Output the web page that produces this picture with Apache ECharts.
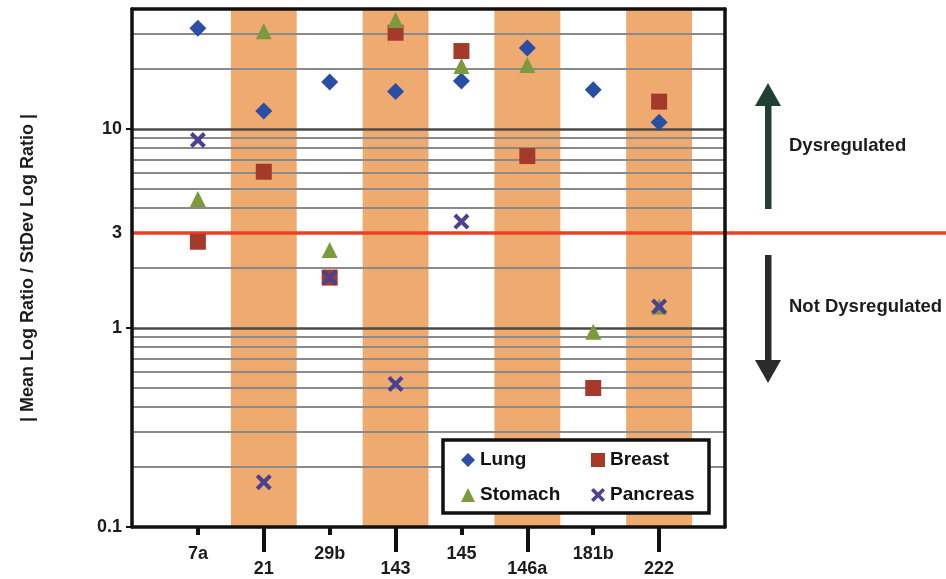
<!DOCTYPE html>
<html>
<head>
<meta charset="utf-8">
<script src="https://cdn.jsdelivr.net/npm/echarts@6/dist/echarts.min.js"></script>
<style>
  html, body { margin: 0; padding: 0; background: #fff; }
  #chart { width: 946px; height: 579px; }
</style>
</head>
<body>
<div id="chart"></div>
<script>
// miRNA categories and per-tissue |mean log ratio / stdev log ratio|
const categories = ['7a', '21', '29b', '143', '145', '146a', '181b', '222'];
const lung     = [32.0, 12.3, 17.2, 15.4, 17.4, 25.5, 15.7, 10.8];
const breast   = [2.71, 6.09, 1.79, 30.4, 24.6, 7.30, 0.499, 13.7];
const stomach  = [4.44, 30.9, 2.46, 35.2, 20.7, 20.9, 0.957, 1.28];
const pancreas = [8.79, 0.168, 1.79, 0.523, 3.42, null, null, 1.28];

// shaded columns, axis labels and reference lines
const shadedCategories = ['21', '143', '146a', '222'];
const yTickLabels = [0.1, 1, 3, 10];
const yTickMarks = [0.1, 1, 10];
const minorGrid = [0.2, 0.3, 0.4, 0.5, 0.6, 0.7, 0.8, 0.9, 2, 4, 5, 6, 7, 8, 9, 20, 30];
const majorGrid = [1, 10];
const threshold = 3;
const yMin = 0.1, yMax = 40;

const FONT = 'Arial, "Liberation Sans", Helvetica, sans-serif';
const INK = '#1c1c1c';
const BAND = '#EFAA6F';
const RED = '#EE3F24';
const X_SHAPE = 'path://M0,1.8 L1.8,0 L5,3.2 L8.2,0 L10,1.8 L6.8,5 L10,8.2 L8.2,10 L5,6.8 L1.8,10 L0,8.2 L3.2,5 Z';

const positions = categories.map((c, i) => i + 1);
const upperRow = positions.filter(p => p % 2 === 1);
const lowerRow = positions.filter(p => p % 2 === 0);
const toPoints = arr => arr.map((v, i) => (v == null ? null : [i + 1, v])).filter(Boolean);
const catName = v => categories[Math.round(v) - 1] || '';
const labelFont = { fontFamily: FONT, fontWeight: 'bold', fontSize: 18, color: INK };

const chart = echarts.init(document.getElementById('chart'), null, { renderer: 'canvas' });

const frameLine = { show: true, onZero: false, lineStyle: { color: '#111', width: 3.5 } };

chart.setOption({
  animation: false,
  backgroundColor: '#fff',
  grid: { left: 132, right: 221, top: 9, bottom: 52, containLabel: false },
  xAxis: [
    {
      type: 'value', min: 0, max: positions.length + 1, interval: 1, position: 'bottom', z: 6,
      axisLine: frameLine,
      axisTick: { show: true, customValues: upperRow, length: 8, lineStyle: { color: '#111', width: 4 } },
      axisLabel: Object.assign({ customValues: upperRow, formatter: catName, margin: 18 }, labelFont),
      splitLine: { show: false }
    },
    {
      type: 'value', min: 0, max: positions.length + 1, interval: 1, position: 'bottom', z: 6,
      axisLine: { show: false, onZero: false },
      axisTick: { show: true, customValues: lowerRow, length: 25, lineStyle: { color: '#111', width: 4 } },
      axisLabel: Object.assign({ customValues: lowerRow, formatter: catName, margin: 33 }, labelFont),
      splitLine: { show: false }
    },
    {
      type: 'value', min: 0, max: positions.length + 1, position: 'top', z: 6,
      axisLine: frameLine, axisTick: { show: false }, axisLabel: { show: false }, splitLine: { show: false }
    }
  ],
  yAxis: [
    {
      type: 'log', logBase: 10, min: yMin, max: yMax, position: 'left', z: 6,
      axisLine: frameLine,
      axisTick: { show: true, customValues: yTickMarks, length: 6, lineStyle: { color: '#111', width: 2 } },
      axisLabel: Object.assign({
        customValues: yTickLabels, margin: 10,
        formatter: v => String(Number(Number(v).toPrecision(3)))
      }, labelFont),
      splitLine: { show: false },
      name: '| Mean Log Ratio / StDev Log Ratio |',
      nameLocation: 'middle', nameRotate: 90, nameGap: 95,
      nameTextStyle: { fontFamily: FONT, fontWeight: 'bold', fontSize: 18, color: INK }
    },
    {
      type: 'log', logBase: 10, min: yMin, max: yMax, position: 'right', z: 6,
      axisLine: frameLine, axisTick: { show: false }, axisLabel: { show: false }, splitLine: { show: false }
    }
  ],
  legend: [
    {
      data: ['Lung', 'Stomach'], orient: 'vertical', left: 461, top: 450, padding: 0,
      itemGap: 15, itemWidth: 14, itemHeight: 14, selectedMode: false, z: 30,
      textStyle: { fontFamily: FONT, fontWeight: 'bold', fontSize: 19, lineHeight: 20, color: '#111' }
    },
    {
      data: ['Breast', 'Pancreas'], orient: 'vertical', left: 591, top: 450, padding: 0,
      itemGap: 15, itemWidth: 14, itemHeight: 14, selectedMode: false, z: 30,
      textStyle: { fontFamily: FONT, fontWeight: 'bold', fontSize: 19, lineHeight: 20, color: '#111' }
    }
  ],
  series: [
    {
      name: 'bands', type: 'scatter', data: [], silent: true, z: 1,
      markArea: {
        silent: true,
        itemStyle: { color: BAND, opacity: 1 },
        data: shadedCategories.map(c => {
          const p = categories.indexOf(c) + 1;
          return [{ xAxis: p - 0.5 }, { xAxis: p + 0.5 }];
        })
      }
    },
    {
      name: 'gridlines', type: 'scatter', data: [], silent: true, z: 2,
      markLine: {
        silent: true, symbol: ['none', 'none'], label: { show: false },
        lineStyle: { color: '#8a8a8a', width: 2, type: 'solid', opacity: 1 },
        data: minorGrid.map(v => ({ yAxis: v }))
          .concat(majorGrid.map(v => ({ yAxis: v, lineStyle: { color: '#4a4a4a', width: 2.5, type: 'solid' } })))
      }
    },
    {
      name: 'threshold', type: 'scatter', data: [], silent: true, z: 3,
      markLine: {
        silent: true, symbol: ['none', 'none'], label: { show: false },
        lineStyle: { color: RED, width: 3.5, type: 'solid', opacity: 1 },
        data: [{ yAxis: threshold }]
      }
    },
    {
      name: 'Lung', type: 'scatter', z: 5, symbol: 'diamond', symbolSize: 17,
      itemStyle: { color: '#2A4EA6', opacity: 1 }, data: toPoints(lung)
    },
    {
      name: 'Breast', type: 'scatter', z: 5, symbol: 'rect', symbolSize: 16,
      itemStyle: { color: '#A53A2B', opacity: 1 }, data: toPoints(breast)
    },
    {
      name: 'Stomach', type: 'scatter', z: 5, symbol: 'triangle', symbolSize: 16,
      itemStyle: { color: '#7C9A3C', opacity: 1 }, data: toPoints(stomach)
    },
    {
      name: 'Pancreas', type: 'scatter', z: 5, symbol: X_SHAPE, symbolSize: 16,
      itemStyle: { color: '#4A4190', opacity: 1 }, data: toPoints(pancreas)
    }
  ]
});

// Threshold line continues past the plot frame; side arrows and notes
const yThr = chart.convertToPixel({ yAxisIndex: 0 }, threshold);
const xRight = chart.convertToPixel({ xAxisIndex: 0 }, positions.length + 1);
const noteFont = { fontFamily: FONT, fontWeight: 'bold', fontSize: 18.5, fill: INK };

chart.setOption({
  graphic: [
    {
      type: 'line', z: 4, silent: true,
      shape: { x1: xRight, y1: yThr, x2: 946, y2: yThr },
      style: { stroke: RED, lineWidth: 3.5 }
    },
    {
      type: 'rect', z: 20, silent: true,
      shape: { x: 443, y: 440, width: 266, height: 73 },
      style: { fill: '#fff', stroke: '#111', lineWidth: 3.5 }
    },
    {
      type: 'rect', z: 10, silent: true,
      shape: { x: 765, y: 100, width: 6.5, height: 109 },
      style: { fill: '#1F4134' }
    },
    {
      type: 'polygon', z: 10, silent: true,
      shape: { points: [[755, 106], [768, 83], [781, 106]] },
      style: { fill: '#1F4134' }
    },
    {
      type: 'rect', z: 10, silent: true,
      shape: { x: 765, y: 255, width: 6.5, height: 110 },
      style: { fill: '#2B2B2B' }
    },
    {
      type: 'polygon', z: 10, silent: true,
      shape: { points: [[755, 360], [781, 360], [768, 383]] },
      style: { fill: '#2B2B2B' }
    },
    {
      type: 'text', z: 10, silent: true, x: 789, y: 146,
      style: Object.assign({ text: 'Dysregulated', align: 'left', verticalAlign: 'middle' }, noteFont)
    },
    {
      type: 'text', z: 10, silent: true, x: 789, y: 307,
      style: Object.assign({ text: 'Not Dysregulated', align: 'left', verticalAlign: 'middle' }, noteFont)
    }
  ]
});
</script>
</body>
</html>
